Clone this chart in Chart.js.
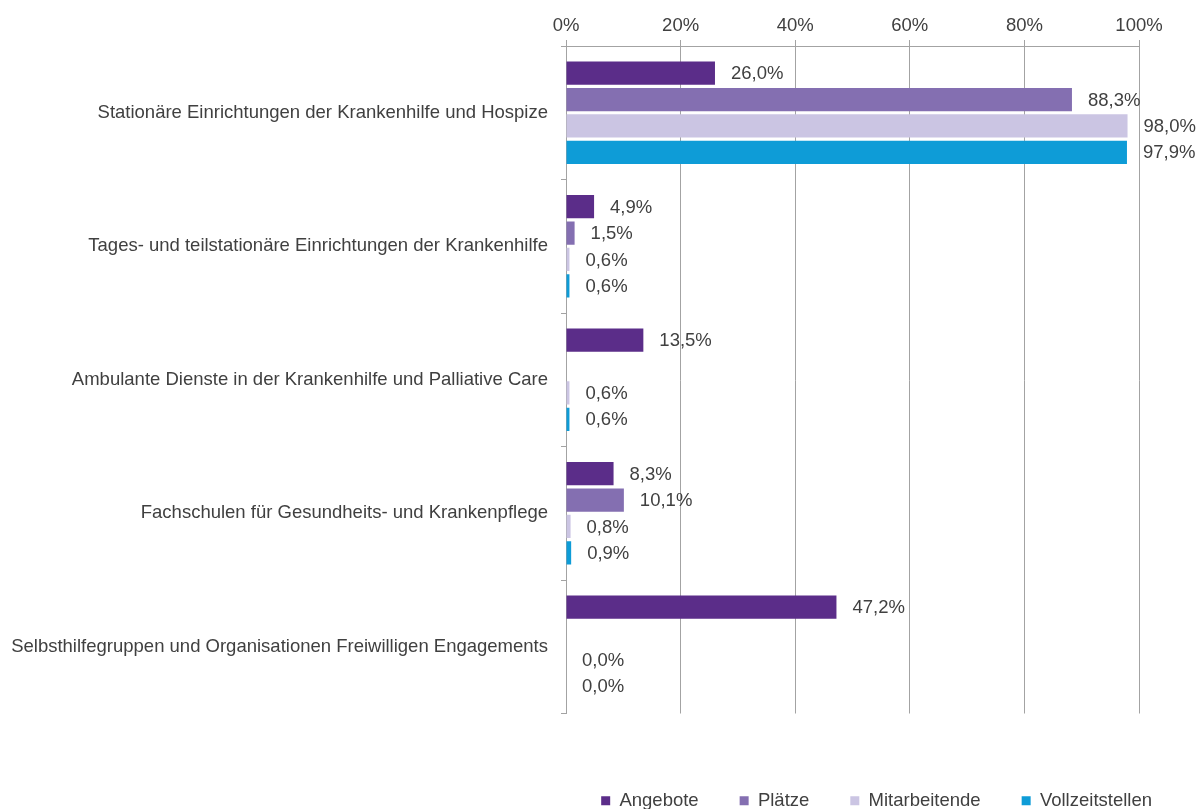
<!DOCTYPE html>
<html>
<head>
<meta charset="utf-8">
<script src="https://cdn.jsdelivr.net/npm/chart.js@4/dist/chart.umd.min.js"></script>
<style>
  html, body { margin: 0; padding: 0; background: #ffffff; }
  #wrap { width: 1203px; height: 809px; position: relative; }
</style>
</head>
<body>
<div id="wrap"><canvas id="c" width="1203" height="809"></canvas></div>
<script>
const categories = [
  "Stationäre Einrichtungen der Krankenhilfe und Hospize",
  "Tages- und teilstationäre Einrichtungen der Krankenhilfe",
  "Ambulante Dienste in der Krankenhilfe und Palliative Care",
  "Fachschulen für Gesundheits- und Krankenpflege",
  "Selbsthilfegruppen und Organisationen Freiwilligen Engagements"
];
const seriesNames = ["Angebote", "Plätze", "Mitarbeitende", "Vollzeitstellen"];
const angebote = [26.0, 4.9, 13.5, 8.3, 47.2];
const plaetze = [88.3, 1.5, null, 10.1, null];
const mitarbeitende = [98.0, 0.6, 0.6, 0.8, 0.0];
const vollzeitstellen = [97.9, 0.6, 0.6, 0.9, 0.0];
const seriesColors = ["#5b2d89", "#846fb1", "#cbc5e3", "#0e9cd7"];
const xTicks = [0, 20, 40, 60, 80, 100];

const FONT = "'Liberation Sans', Arial, sans-serif";
const TEXT = "#404040";
const GRID = "#a3a3a3";

const valueLabels = {
  id: 'valueLabels',
  afterDatasetsDraw(chart) {
    const ctx = chart.ctx;
    ctx.save();
    ctx.font = "18.5px " + FONT;
    ctx.fillStyle = TEXT;
    ctx.textAlign = 'left';
    ctx.textBaseline = 'middle';
    chart.data.datasets.forEach((ds, di) => {
      const meta = chart.getDatasetMeta(di);
      meta.data.forEach((el, i) => {
        const v = ds.data[i];
        if (v === null || v === undefined) return;
        const txt = v.toFixed(1).replace('.', ',') + '%';
        ctx.fillText(txt, el.x + 16, el.y + 1);
      });
    });
    ctx.restore();
  }
};

const allSeries = [angebote, plaetze, mitarbeitende, vollzeitstellen];

new Chart(document.getElementById('c'), {
  type: 'bar',
  data: {
    labels: categories,
    datasets: allSeries.map((d, i) => ({
      label: seriesNames[i],
      data: d,
      backgroundColor: seriesColors[i],
      borderWidth: 0,
      barPercentage: 0.88,
      categoryPercentage: 0.79
    }))
  },
  options: {
    indexAxis: 'y',
    responsive: false,
    animation: false,
    devicePixelRatio: 1,
    layout: { padding: { left: 8, right: 10, top: 0, bottom: -11 } },
    scales: {
      x: {
        position: 'top',
        min: 0,
        max: 100,
        afterBuildTicks(scale) { scale.ticks = xTicks.map(v => ({ value: v })); },
        ticks: {
          callback: v => v + '%',
          color: TEXT,
          font: { family: FONT, size: 18.5 },
          padding: 3
        },
        grid: { color: GRID, lineWidth: 1, tickLength: 6, drawTicks: true },
        border: { color: GRID, width: 1 },
        afterFit(scale) { scale.height = 46; }
      },
      spacerB: {
        type: 'linear',
        position: 'bottom',
        display: true,
        grid: { display: false, drawTicks: false },
        ticks: { display: false },
        border: { display: false },
        afterFit(scale) { scale.height = 37; }
      },
      y: {
        position: 'left',
        ticks: {
          color: TEXT,
          font: { family: FONT, size: 18.5 },
          padding: 13
        },
        grid: { offset: true, drawOnChartArea: false, drawTicks: true, tickLength: 5, color: GRID },
        border: { color: GRID, width: 1 },
        afterFit(scale) { scale.width = 558; }
      },
      spacerR: {
        type: 'linear',
        position: 'right',
        display: true,
        grid: { display: false, drawTicks: false },
        ticks: { display: false },
        border: { display: false },
        afterFit(scale) { scale.width = 54; }
      }
    },
    plugins: {
      legend: {
        position: 'bottom',
        align: 'end',
        labels: {
          boxWidth: 9,
          boxHeight: 9,
          padding: 41,
          color: TEXT,
          font: { family: FONT, size: 18.5 }
        }
      },
      tooltip: { enabled: false },
      title: { display: false }
    }
  },
  plugins: [valueLabels]
});
</script>
</body>
</html>
